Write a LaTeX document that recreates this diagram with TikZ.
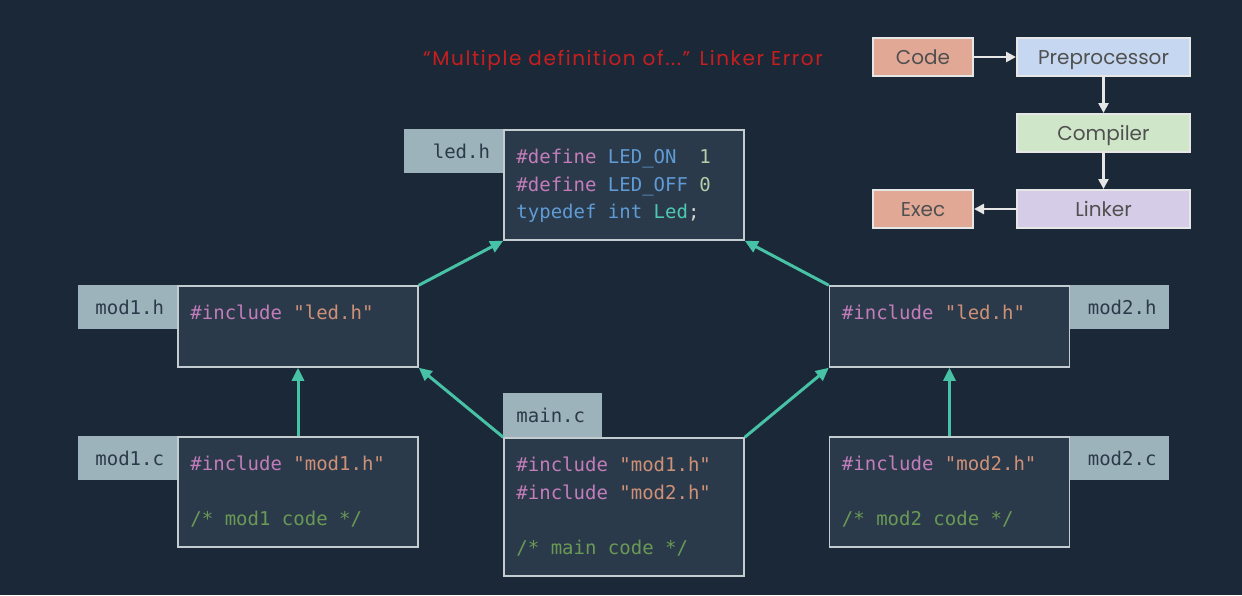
\documentclass[tikz,border=0pt]{standalone}
\usepackage{fontspec}
\setmainfont{Poppins}
\newfontfamily\codefont{DejaVu Sans Mono}
\usetikzlibrary{positioning,arrows.meta}

\definecolor{bgnavy}{HTML}{1B2838}
\definecolor{boxfill}{HTML}{2B3A4A}
\definecolor{boxline}{HTML}{C3CCD0}
\definecolor{tagfill}{HTML}{9DB3BB}
\definecolor{tagtext}{HTML}{2B3A4A}
\definecolor{linkteal}{HTML}{48C2A6}
\definecolor{cpppink}{HTML}{C27DBA}
\definecolor{identblue}{HTML}{5F9BD5}
\definecolor{numgreen}{HTML}{B5CEA8}
\definecolor{typeteal}{HTML}{4EC9B0}
\definecolor{strorange}{HTML}{CE9178}
\definecolor{cmtgreen}{HTML}{6A9955}
\definecolor{plaintext}{HTML}{D4D4D4}
\definecolor{errred}{HTML}{C81E1E}
\definecolor{stepsalmon}{HTML}{E1A895}
\definecolor{stepblue}{HTML}{C6D8F1}
\definecolor{stepgreen}{HTML}{CFE6C9}
\definecolor{steplilac}{HTML}{D5CDE7}
\definecolor{stepline}{HTML}{E6E6E6}
\definecolor{steptext}{HTML}{505050}

\newcommand{\ppd}[1]{\textcolor{cpppink}{#1}}
\newcommand{\idn}[1]{\textcolor{identblue}{#1}}
\newcommand{\lit}[1]{\textcolor{numgreen}{#1}}
\newcommand{\tyn}[1]{\textcolor{typeteal}{#1}}
\newcommand{\str}[1]{\textcolor{strorange}{#1}}
\newcommand{\cmt}[1]{\textcolor{cmtgreen}{#1}}

\tikzset{
  srcbox/.style={draw=boxline, fill=boxfill, line width=1.5pt,
    minimum width=240pt, inner sep=0pt},
  tag/.style={fill=tagfill, text=tagtext,
    font=\codefont\fontsize{19}{22}\selectfont,
    minimum width=99pt, minimum height=44pt, inner ysep=0pt,
    inner xsep=13pt, text width=73pt, align=right},
  code/.style={font=\codefont\fontsize{19}{27.5}\selectfont,
    text=plaintext, align=left, inner sep=0pt, anchor=north west},
  include/.style={-{Triangle[length=13pt,width=12pt]}, linkteal,
    line width=3pt},
  stage/.style={draw=stepline, line width=2pt, minimum height=38pt,
    text=steptext, font=\fontsize{20}{22}\selectfont, inner sep=0pt,
    text height=14pt, text depth=0pt},
  flow/.style={-{Triangle[length=10pt,width=10pt]}, stepline,
    line width=2.5pt}
}

\begin{document}
\begin{tikzpicture}[x=1pt,y=-1pt]
\useasboundingbox[fill=bgnavy] (0,0) rectangle (1242,595);

% title
\node[font=\fontsize{20}{22}\selectfont\addfontfeatures{LetterSpace=8},
  text=errred] (errtitle) at (623,60)
  {“Multiple definition of...” Linker Error};

% source files
\node[srcbox, minimum height=110pt] (ledh) at (624,185) {};
\node[srcbox, minimum height=81pt] (mod1h) at (298,326.5) {};
\node[srcbox, minimum height=110pt] (mod1c) at (298,492) {};
\node[srcbox, minimum height=138pt] (mainc) at (624,507) {};
\node[srcbox, minimum height=81pt] (mod2h) at (949.5,326.5) {};
\node[srcbox, minimum height=110pt] (mod2c) at (949.5,492) {};

\node[tag, below left=0pt of ledh.north west] (ledhtag) {led.h};
\node[tag, below left=0pt of mod1h.north west] (mod1htag) {mod1.h};
\node[tag, below left=0pt of mod1c.north west] (mod1ctag) {mod1.c};
\node[tag, align=left, above right=0pt of mainc.north west] (maintag) {main.c};
\node[tag, below right=0pt of mod2h.north east] (mod2htag) {mod2.h};
\node[tag, below right=0pt of mod2c.north east] (mod2ctag) {mod2.c};

\node[code] (ledhsrc) at ([shift={(13pt,-20pt)}]ledh.north west)
  {\ppd{\#define} \idn{LED\_ON}\ \ \lit{1}\\
   \ppd{\#define} \idn{LED\_OFF} \lit{0}\\
   \idn{typedef} \idn{int} \tyn{Led};};
\node[code] (mod1hsrc) at ([shift={(13pt,-20pt)}]mod1h.north west)
  {\ppd{\#include} \str{"led.h"}};
\node[code] (mod1csrc) at ([shift={(13pt,-20pt)}]mod1c.north west)
  {\ppd{\#include} \str{"mod1.h"}\\ \mbox{}\\
   \cmt{/* mod1 code */}};
\node[code] (mainsrc) at ([shift={(13pt,-20pt)}]mainc.north west)
  {\ppd{\#include} \str{"mod1.h"}\\
   \ppd{\#include} \str{"mod2.h"}\\ \mbox{}\\
   \cmt{/* main code */}};
\node[code] (mod2hsrc) at ([shift={(13pt,-20pt)}]mod2h.north west)
  {\ppd{\#include} \str{"led.h"}};
\node[code] (mod2csrc) at ([shift={(13pt,-20pt)}]mod2c.north west)
  {\ppd{\#include} \str{"mod2.h"}\\ \mbox{}\\
   \cmt{/* mod2 code */}};

\draw[include] (mod1c.north) -- (mod1h.south);
\draw[include] (mod2c.north) -- (mod2h.south);
\draw[include] (mainc.north west) -- (mod1h.south east);
\draw[include] (mainc.north east) -- (mod2h.south west);
\draw[include] (mod1h.north east) -- (ledh.south west);
\draw[include] (mod2h.north west) -- (ledh.south east);

% build steps
\node[stage, fill=stepsalmon, minimum width=100pt] (code) at (923,57) {Code};
\node[stage, fill=stepblue, minimum width=173pt, right=42pt of code] (prep) {Preprocessor};
\node[stage, fill=stepgreen, minimum width=173pt, below=36pt of prep] (comp) {Compiler};
\node[stage, fill=steplilac, minimum width=173pt, below=36pt of comp] (link) {Linker};
\node[stage, fill=stepsalmon, minimum width=100pt, left=42pt of link] (exec) {Exec};

\draw[flow] (code) -- (prep);
\draw[flow] (prep) -- (comp);
\draw[flow] (comp) -- (link);
\draw[flow] (link) -- (exec);
\end{tikzpicture}
\end{document}
